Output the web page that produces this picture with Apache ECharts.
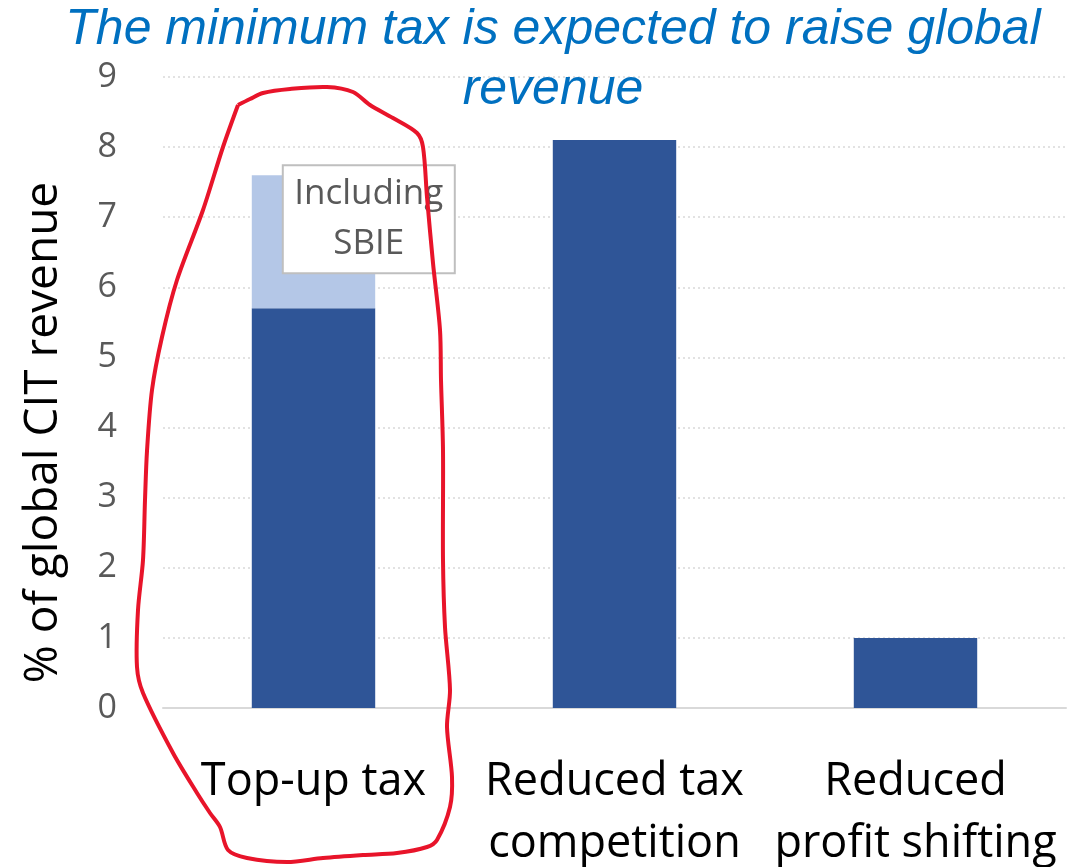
<!DOCTYPE html>
<html>
<head>
<meta charset="utf-8">
<script src="https://cdn.jsdelivr.net/npm/echarts@6/dist/echarts.min.js"></script>
<style>html,body{margin:0;padding:0;background:#fff;}#c{width:1084px;height:867px;}</style>
</head>
<body>
<div id="c"></div>
<script>
const titleText = 'The minimum tax is expected to raise global\nrevenue';
const categories = ['Top-up tax', 'Reduced tax\ncompetition', 'Reduced\nprofit shifting'];
const baseValues = [5.7, 8.1, 1.0];
const sbieValues = [1.9, '-', '-'];
const sbieLabel = 'Including\nSBIE';
const yTicks = [0, 1, 2, 3, 4, 5, 6, 7, 8, 9];
const yAxisName = '% of global CIT revenue';

// hand-drawn red loop annotation (pixel outline)
const loop = [[238,105],[250,99],[263,93],[290,89],[327,87],[353,92],[370,105],[393,118],[417,133],[423,147],[427,197],[433,263],[440,330],[441,380],[443,450],[443,560],[445,627],[450,690],[447,727],[452,777],[450,807],[437,840],[427,847],[397,853],[363,855],[323,858],[287,862],[247,858],[228,850],[220,827],[210,813],[197,793],[173,753],[143,693],[137,667],[138,610],[143,560],[145,500],[147,451],[152,390],[162,337],[177,280],[203,210],[223,147],[238,105]];

const chart = echarts.init(document.getElementById('c'));
chart.setOption({
  animation: false,
  backgroundColor: '#ffffff',
  title: {
    text: titleText,
    left: 553,
    textAlign: 'center',
    top: 0,
    padding: 0,
    textStyle: {
      fontFamily: 'Liberation Sans',
      fontStyle: 'italic',
      fontWeight: 'normal',
      fontSize: 50,
      lineHeight: 60,
      color: '#0070C0'
    }
  },
  grid: { left: 163, right: 18, top: 77, bottom: 159, containLabel: false, outerBoundsMode: 'none' },
  xAxis: {
    type: 'category',
    data: categories,
    axisLine: { lineStyle: { color: '#D9D9D9', width: 2 } },
    axisTick: { show: false },
    axisLabel: {
      color: '#000000',
      fontFamily: 'Open Sans',
      fontSize: 45,
      lineHeight: 62,
      margin: 43,
      interval: 0
    }
  },
  yAxis: {
    type: 'value',
    min: yTicks[0],
    max: yTicks[yTicks.length - 1],
    interval: 1,
    name: yAxisName,
    nameLocation: 'middle',
    nameGap: 96,
    nameTextStyle: { color: '#000000', fontFamily: 'Open Sans', fontSize: 46, padding: [0, 80, 0, 0] },
    axisLine: { show: false },
    axisTick: { show: false },
    axisLabel: { color: '#595959', fontFamily: 'Open Sans', fontSize: 34, margin: 46 },
    splitLine: { lineStyle: { color: '#D9D9D9', type: [2, 3], width: 1.5 } }
  },
  series: [
    {
      type: 'bar',
      stack: 'total',
      data: baseValues,
      barWidth: '41%',
      itemStyle: { color: '#2F5597' }
    },
    {
      type: 'bar',
      stack: 'total',
      data: sbieValues,
      barWidth: '41%',
      itemStyle: { color: '#B4C7E7' },
      label: {
        show: true,
        formatter: sbieLabel,
        position: [117, -9],
        align: 'center',
        verticalAlign: 'top',
        color: '#595959',
        fontFamily: 'Open Sans',
        fontSize: 35,
        lineHeight: 50,
        width: 150,
        backgroundColor: '#ffffff',
        borderColor: '#BFBFBF',
        borderWidth: 2,
        padding: [3, 10]
      }
    }
  ],
  graphic: [
    {
      type: 'polyline',
      shape: { points: loop, smooth: 0.3 },
      style: { stroke: '#E8142A', lineWidth: 4, fill: null },
      z: 100
    }
  ]
});
</script>
</body>
</html>
